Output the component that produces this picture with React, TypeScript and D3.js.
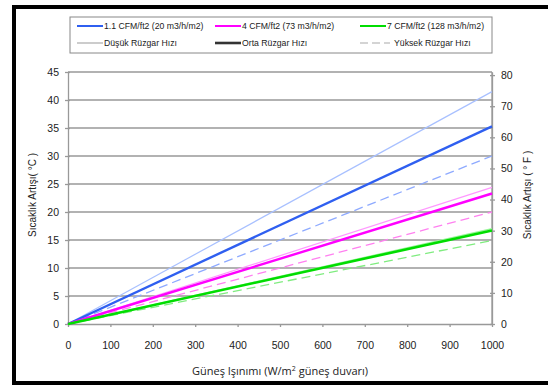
import { useEffect, useRef } from 'react';
import * as d3 from 'd3';

// irradiance (W/m2) at the two ends of each line
const irradiance = [0, 1000];
const xTicks = [0, 100, 200, 300, 400, 500, 600, 700, 800, 900, 1000];
const cTicks = [0, 5, 10, 15, 20, 25, 30, 35, 40, 45];
const fTicks = [0, 10, 20, 30, 40, 50, 60, 70, 80];

// temperature rise (C) per airflow, low / medium / high wind
const blueLow = [0, 41.5];
const blueMid = [0, 35.3];
const blueHigh = [0, 30.0];
const pinkLow = [0, 24.4];
const pinkMid = [0, 23.3];
const pinkHigh = [0, 20.0];
const greenLow = [0, 17.0];
const greenMid = [0, 16.7];
const greenHigh = [0, 14.9];

const flowLabels = ['1.1 CFM/ft2 (20 m3/h/m2)', '4 CFM/ft2 (73 m3/h/m2)', '7 CFM/ft2 (128 m3/h/m2)'];
const windLabels = ['Düşük Rüzgar Hızı', 'Orta Rüzgar Hızı', 'Yüksek Rüzgar Hızı'];

export default function App() {
  const ref = useRef<SVGSVGElement>(null);

  useEffect(() => {
    const svg = d3.select(ref.current);
    svg.selectAll('*').remove();

    const left = 68, right = 492, top = 72, bottom = 324;
    const x = d3.scaleLinear().domain([0, 1000]).range([left, right]);
    const y = d3.scaleLinear().domain([0, 45]).range([bottom, top]);
    const yF = d3.scaleLinear().domain([0, 81]).range([bottom, top]);
    const font = 'Liberation Sans, Arial, sans-serif';

    svg.append('rect').attr('width', 548).attr('height', 385).attr('fill', '#fff');
    // outer frame
    svg.append('rect')
      .attr('x', 14).attr('y', 7).attr('width', 570).attr('height', 376)
      .attr('fill', 'none').attr('stroke', '#000').attr('stroke-width', 4);

    // grid
    svg.append('g').selectAll('line')
      .data(cTicks.filter(d => d > 0))
      .enter().append('line')
      .attr('x1', left).attr('x2', right)
      .attr('y1', d => y(d)).attr('y2', d => y(d))
      .attr('stroke', '#999').attr('stroke-width', 1.3);

    // axes
    const axisStyle = (g: any) => {
      g.select('.domain').attr('stroke', '#999').attr('stroke-width', 1.3);
      g.selectAll('.tick line').attr('stroke', '#999').attr('stroke-width', 1.3);
      g.selectAll('text').attr('font-family', font).attr('font-size', 10.5).attr('fill', '#222');
    };
    svg.append('g')
      .attr('transform', `translate(0,${bottom})`)
      .call(d3.axisBottom(x).tickValues(xTicks).tickFormat(d3.format('d')).tickSize(3).tickPadding(15).tickSizeOuter(0))
      .call(axisStyle);
    svg.append('g')
      .attr('transform', `translate(${left},0)`)
      .call(d3.axisLeft(y).tickValues(cTicks).tickSize(4).tickPadding(5).tickSizeOuter(0))
      .call(axisStyle)
      .selectAll('.tick line').attr('x2', 2).attr('x1', -3);
    svg.append('g')
      .attr('transform', `translate(${right},0)`)
      .call(d3.axisRight(yF).tickValues(fTicks).tickSize(4).tickPadding(5).tickSizeOuter(0))
      .call(axisStyle)
      .selectAll('.tick line').attr('x2', 3).attr('x1', -2);
    svg.append('line')
      .attr('x1', right).attr('x2', right).attr('y1', top).attr('y2', bottom)
      .attr('stroke', '#999').attr('stroke-width', 1.3);

    // series
    const series = [
      { v: blueLow, c: '#a8c0ff', w: 1.2, dash: null },
      { v: blueHigh, c: '#8eaaff', w: 1.3, dash: '9,5' },
      { v: blueMid, c: '#2f5ff0', w: 2.4, dash: null },
      { v: pinkLow, c: '#ff99ff', w: 1.2, dash: null },
      { v: pinkHigh, c: '#ff80f0', w: 1.3, dash: '9,5' },
      { v: pinkMid, c: '#ff00ff', w: 2.4, dash: null },
      { v: greenLow, c: '#99f599', w: 1.4, dash: null },
      { v: greenHigh, c: '#80ec80', w: 1.3, dash: '9,5' },
      { v: greenMid, c: '#00dd00', w: 2.6, dash: null },
    ];
    const line = d3.line<number>().x((_, i) => x(irradiance[i])).y(d => y(d));
    svg.append('g').selectAll('path')
      .data(series)
      .enter().append('path')
      .attr('d', d => line(d.v))
      .attr('fill', 'none')
      .attr('stroke', d => d.c)
      .attr('stroke-width', d => d.w)
      .attr('stroke-dasharray', d => d.dash);

    // axis titles
    svg.append('text')
      .attr('x', 280).attr('y', 375).attr('text-anchor', 'middle')
      .attr('font-family', 'Open Sans, sans-serif').attr('font-size', 11).attr('fill', '#222')
      .html('Güneş Işınımı (W/m<tspan dy="-4" font-size="7">2</tspan><tspan dy="4"> güneş duvarı)</tspan>');
    svg.append('text')
      .attr('transform', 'translate(36,195) rotate(-90)').attr('text-anchor', 'middle')
      .attr('font-family', font).attr('font-size', 10).attr('fill', '#222')
      .text('Sıcaklık Artışı( °C )');
    svg.append('text')
      .attr('transform', 'translate(531,195) rotate(-90)').attr('text-anchor', 'middle')
      .attr('font-family', font).attr('font-size', 10).attr('fill', '#222')
      .text('Sıcaklık Artışı ( ° F )');

    // legend
    const lg = svg.append('g');
    lg.append('rect')
      .attr('x', 70).attr('y', 17).attr('width', 422).attr('height', 36)
      .attr('fill', '#fff').attr('stroke', '#888').attr('stroke-width', 1);
    const cols = [77, 215, 360];
    const flowColors = ['#2f5ff0', '#ff00ff', '#00dd00'];
    const windStyles = [
      { c: '#aaa', w: 1.2, dash: null },
      { c: '#333', w: 2.6, dash: null },
      { c: '#aaa', w: 1.2, dash: '8,4' },
    ];
    flowLabels.forEach((t, i) => {
      lg.append('line').attr('x1', cols[i]).attr('x2', cols[i] + 26).attr('y1', 26).attr('y2', 26)
        .attr('stroke', flowColors[i]).attr('stroke-width', 2);
      lg.append('text').attr('x', cols[i] + 27).attr('y', 29)
        .attr('font-family', font).attr('font-size', 8.7).attr('fill', '#222').text(t);
    });
    windLabels.forEach((t, i) => {
      const s = windStyles[i];
      lg.append('line').attr('x1', cols[i]).attr('x2', cols[i] + (i === 2 ? 30 : 26))
        .attr('y1', 43).attr('y2', 43)
        .attr('stroke', s.c).attr('stroke-width', s.w).attr('stroke-dasharray', s.dash);
      lg.append('text').attr('x', cols[i] + (i === 2 ? 34 : 27)).attr('y', 46)
        .attr('font-family', font).attr('font-size', 8.7).attr('fill', '#222').text(t);
    });
  }, []);

  return (
    <div style={{ position: 'fixed', left: 0, top: 0 }}>
      <svg ref={ref} width={548} height={385} style={{ display: 'block' }}></svg>
    </div>
  );
}
